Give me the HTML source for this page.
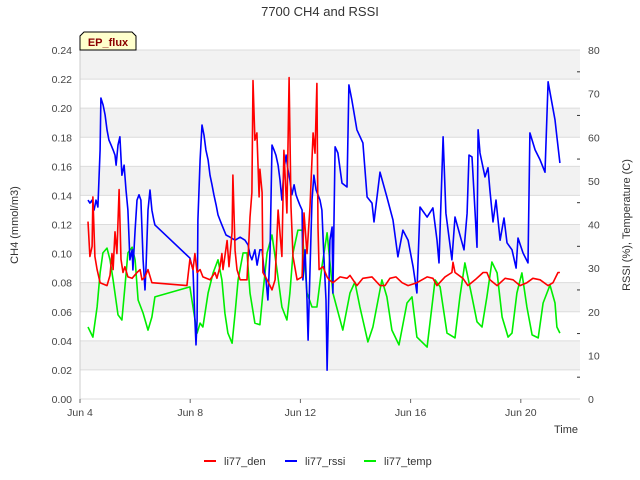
<!DOCTYPE html>
<html><head><meta charset="utf-8"><style>
html,body{margin:0;padding:0;background:#fff;}
svg{display:block;font-family:"Liberation Sans","DejaVu Sans",sans-serif;}
</style></head><body>
<svg id="chart" width="640" height="480" viewBox="0 0 640 480" xmlns="http://www.w3.org/2000/svg">
<text x="320" y="16" text-anchor="middle" font-size="13" fill="#333">7700 CH4 and RSSI</text>
<g id="bands"></g><g id="grid"></g><g id="series"></g><g id="axes"></g>
<g>
<path d="M80,50 L80,36 L84,32 L132,32 L136,36 L136,50 Z" fill="#ffffcc" stroke="#000" stroke-width="1"/>
<text x="108" y="46" text-anchor="middle" font-size="11" font-weight="bold" fill="#8b0000">EP_flux</text>
</g>
<text x="18" y="225" transform="rotate(-90 18 225)" text-anchor="middle" font-size="11" fill="#333">CH4 (mmol/m3)</text>
<text x="630" y="225" transform="rotate(-90 630 225)" text-anchor="middle" font-size="11" fill="#333">RSSI (%), Temperature (C)</text>
<text x="566" y="433" text-anchor="middle" font-size="11" fill="#333">Time</text>
<g>
<g><line x1="204" y1="461" x2="216" y2="461" stroke="#ff0000" stroke-width="2"/><text x="224" y="465" font-size="11" fill="#333">li77_den</text></g>
<g><line x1="285" y1="461" x2="297" y2="461" stroke="#0000ff" stroke-width="2"/><text x="305" y="465" font-size="11" fill="#333">li77_rssi</text></g>
<g><line x1="364" y1="461" x2="376" y2="461" stroke="#00ee00" stroke-width="2"/><text x="384" y="465" font-size="11" fill="#333">li77_temp</text></g>
</g>
</svg>
<script>
const NS="http://www.w3.org/2000/svg";
const xTickLabels=["Jun 4","Jun 8","Jun 12","Jun 16","Jun 20"];
const xTickDays=[0,4,8,12,16];
const leftTicks=[0,0.02,0.04,0.06,0.08,0.10,0.12,0.14,0.16,0.18,0.20,0.22,0.24];
const rightTicks=[0,10,20,30,40,50,60,70,80];
const denDays=[.29,.36,.44,.47,.54,.62,.73,.98,1.09,1.16,1.2,1.27,1.34,1.42,1.49,1.56,1.63,1.74,1.89,2.07,2.18,2.25,2.36,2.47,2.61,3.88,3.99,4.1,4.17,4.25,4.36,4.46,4.72,4.9,4.97,5.08,5.15,5.19,5.34,5.41,5.52,5.55,5.63,5.7,5.81,6.06,6.17,6.24,6.28,6.35,6.42,6.5,6.53,6.61,6.64,6.79,6.97,7.08,7.19,7.33,7.4,7.51,7.59,7.66,7.73,7.88,8.06,8.13,8.24,8.35,8.46,8.53,8.6,8.64,8.68,8.82,8.97,9.04,9.18,9.44,9.69,9.8,10.05,10.27,10.6,10.89,11.07,11.25,11.47,11.69,11.91,12.23,12.6,12.81,12.96,13.25,13.5,13.54,13.61,13.9,14.08,14.34,14.52,14.63,14.77,14.88,15.14,15.43,15.72,15.97,16.22,16.44,16.7,16.99,17.17,17.35,17.42];
const denVals=[.122,.098,.105,.139,.098,.089,.080,.078,.085,.100,.089,.115,.100,.144,.096,.087,.091,.084,.083,.087,.089,.082,.084,.089,.080,.078,.096,.089,.100,.087,.089,.084,.082,.087,.083,.091,.100,.089,.109,.091,.115,.154,.102,.089,.082,.082,.125,.142,.219,.178,.183,.139,.158,.142,.087,.082,.075,.082,.130,.098,.171,.128,.221,.132,.098,.082,.084,.128,.100,.132,.183,.169,.217,.118,.089,.091,.084,.082,.080,.084,.083,.085,.078,.083,.084,.078,.078,.083,.084,.080,.078,.080,.084,.083,.078,.084,.087,.094,.087,.083,.078,.082,.085,.087,.087,.082,.078,.083,.082,.078,.080,.083,.082,.078,.080,.087,.087];
const rssiDays=[0.29,0.36,0.44,0.51,0.58,0.65,0.73,0.76,0.84,0.91,0.98,1.05,1.13,1.2,1.27,1.31,1.38,1.45,1.52,1.6,1.67,1.74,1.81,1.89,1.92,2.0,2.07,2.14,2.21,2.29,2.36,2.4,2.47,2.54,2.61,2.68,2.72,3.99,4.1,4.17,4.21,4.25,4.28,4.36,4.43,4.5,4.57,4.65,4.72,4.79,4.86,4.94,5.01,5.08,5.15,5.3,5.45,5.63,5.81,5.99,6.1,6.17,6.24,6.35,6.43,6.53,6.61,6.68,6.75,6.82,6.9,6.97,7.04,7.11,7.19,7.26,7.33,7.4,7.48,7.55,7.62,7.69,7.77,7.84,7.91,7.98,8.06,8.09,8.17,8.24,8.28,8.35,8.42,8.49,8.57,8.64,8.71,8.78,8.85,8.93,8.97,9.0,9.07,9.15,9.18,9.26,9.36,9.51,9.69,9.76,9.87,10.05,10.27,10.42,10.6,10.67,10.89,11.14,11.36,11.54,11.72,11.91,12.09,12.23,12.34,12.6,12.81,12.96,13.03,13.18,13.28,13.5,13.61,13.94,14.05,14.12,14.23,14.41,14.45,14.52,14.7,14.81,14.88,14.99,15.1,15.25,15.39,15.5,15.68,15.83,15.9,16.08,16.26,16.33,16.52,16.7,16.88,16.99,17.13,17.24,17.31,17.42];
const rssiVals=[45.6,44.9,45.6,43.3,45.6,44.0,57.1,69.0,67.4,65.1,61.7,59.4,58.2,57.1,55.9,53.6,58.2,60.1,51.3,53.6,47.9,43.3,31.9,34.2,29.6,38.7,45.6,46.8,45.6,31.9,25.0,30.7,43.3,47.9,43.3,41.0,39.9,32.3,29.6,18.1,12.4,18.1,41.0,54.8,62.8,60.5,57.1,54.8,51.3,49.1,46.8,44.5,42.2,41.0,39.9,37.6,37.1,36.4,37.1,36.4,35.3,33.0,31.9,34.2,30.7,34.2,34.2,29.6,27.3,22.7,34.2,58.2,57.1,55.9,53.6,50.2,45.6,52.5,55.9,52.5,50.2,46.8,49.1,46.8,45.6,44.5,43.3,27.3,34.2,22.7,13.5,29.6,45.6,51.3,47.9,46.8,45.6,43.3,33.0,22.7,6.6,15.8,36.4,39.4,24.3,57.8,56.4,49.5,48.6,72.0,68.5,61.7,58.7,46.3,44.9,40.6,52.0,46.3,41.0,32.6,38.7,36.4,30.3,24.3,44.0,41.7,43.8,36.4,31.2,60.1,42.6,31.9,41.7,34.2,42.6,55.9,55.5,34.8,61.7,56.4,50.9,53.0,47.9,40.6,45.6,36.4,41.5,35.8,34.2,30.0,36.9,33.5,31.2,61.0,57.1,54.8,52.0,72.7,67.9,64.0,60.1,54.1];
const tempDays=[.29,.47,.62,.73,.83,.98,1.09,1.2,1.38,1.52,1.63,1.74,1.89,2.0,2.11,2.29,2.47,2.61,2.72,3.99,4.1,4.25,4.36,4.46,4.65,4.83,5.01,5.15,5.26,5.37,5.52,5.63,5.74,5.92,6.06,6.17,6.35,6.53,6.64,6.79,6.97,7.15,7.33,7.51,7.62,7.73,7.91,8.06,8.24,8.42,8.6,8.78,8.97,9.18,9.54,9.8,9.98,10.16,10.45,10.63,10.96,11.14,11.32,11.58,11.87,12.05,12.23,12.6,12.89,13.07,13.32,13.61,13.79,13.97,14.23,14.41,14.59,14.77,14.95,15.14,15.32,15.54,15.68,15.86,16.04,16.22,16.41,16.63,16.81,17.06,17.24,17.31,17.42];
const tempVals=[16.5,14.2,21.1,28.9,33.5,34.6,31.9,27.3,19.3,18.1,25.7,33.5,34.8,31.9,22.7,19.7,15.8,18.8,23.4,25.7,21.1,15.1,17.4,16.5,24.3,28.9,31.9,27.3,19.7,15.1,12.8,19.7,27.3,33.5,33.5,24.3,17.4,17.0,24.3,33.5,37.6,29.6,21.1,18.1,24.3,33.5,38.7,38.7,24.3,21.1,21.1,30.3,38.1,24.3,15.8,24.3,26.8,21.1,13.1,16.5,27.3,23.4,15.8,12.4,22.0,23.4,14.2,11.9,27.3,25.7,15.1,14.0,23.4,31.2,23.4,17.7,16.5,23.4,31.4,28.9,18.8,14.2,15.1,24.3,28.9,21.1,14.7,14.0,22.0,26.1,22.0,16.5,15.1];

const X0=80,X1=580,Y0=399,Y1=50,PXDAY=27.55;
const xs=d=>X0+d*PXDAY;
const yL=v=>Y0-(v/0.24)*(Y0-Y1);
const yR=v=>Y0-(v/80)*(Y0-Y1);
function mk(tag,attrs,parent){const e=document.createElementNS(NS,tag);for(const k in attrs)e.setAttribute(k,attrs[k]);parent.appendChild(e);return e;}
const bands=document.getElementById('bands'),grid=document.getElementById('grid'),ser=document.getElementById('series'),axes=document.getElementById('axes');
mk('rect',{x:X0,y:Y1,width:X1-X0,height:Y0-Y1,fill:'#fff'},bands);
for(let i=1;i<leftTicks.length-1;i+=2){
  const b=mk('rect',{x:X0,y:yL(leftTicks[i+1]),width:X1-X0,height:yL(leftTicks[i])-yL(leftTicks[i+1]),fill:'#f2f2f2'},bands);
  
  
}
leftTicks.forEach(v=>{
  const l=mk('line',{x1:X0,x2:X1,y1:yL(v),y2:yL(v),stroke:'#dcdcdc','stroke-width':1},grid);
  
  
  const t=mk('text',{x:X0-8,y:yL(v)+4,'text-anchor':'end','font-size':10.5,fill:'#444'},axes);
  t.textContent=v.toFixed(2);
  
  
});
mk('line',{x1:X0,x2:X0,y1:Y1,y2:Y0,stroke:'#ccc','stroke-width':1},axes);
rightTicks.forEach(v=>{
  const t=mk('text',{x:X1+8,y:yR(v)+4,'font-size':10.5,fill:'#444'},axes);
  t.textContent=v;
  
  
});
for(let v=5;v<80;v+=10){mk('line',{x1:X1-3,x2:X1,y1:yR(v),y2:yR(v),stroke:'#333','stroke-width':1},axes);}
xTickDays.forEach((d,i)=>{
  mk('line',{x1:xs(d),x2:xs(d),y1:Y0,y2:Y0+4,stroke:'#666','stroke-width':1},axes);
  const t=mk('text',{x:xs(d),y:Y0+17,'text-anchor':'middle','font-size':10.5,fill:'#444'},axes);
  t.textContent=xTickLabels[i];
  
  
});
function line(days,vals,yf,color,name){
  const p=days.map((d,i)=>xs(d).toFixed(1)+','+yf(vals[i]).toFixed(1)).join(' ');
  const e=mk('polyline',{points:p,fill:'none',stroke:color,'stroke-width':1.6,'stroke-linejoin':'round'},ser);
  
  
}
line(tempDays,tempVals,yR,'#00ee00','series-li77-temp');
line(rssiDays,rssiVals,yR,'#0000ff','series-li77-rssi');
line(denDays,denVals,yL,'#ff0000','series-li77-den');
</script>
</body></html>
